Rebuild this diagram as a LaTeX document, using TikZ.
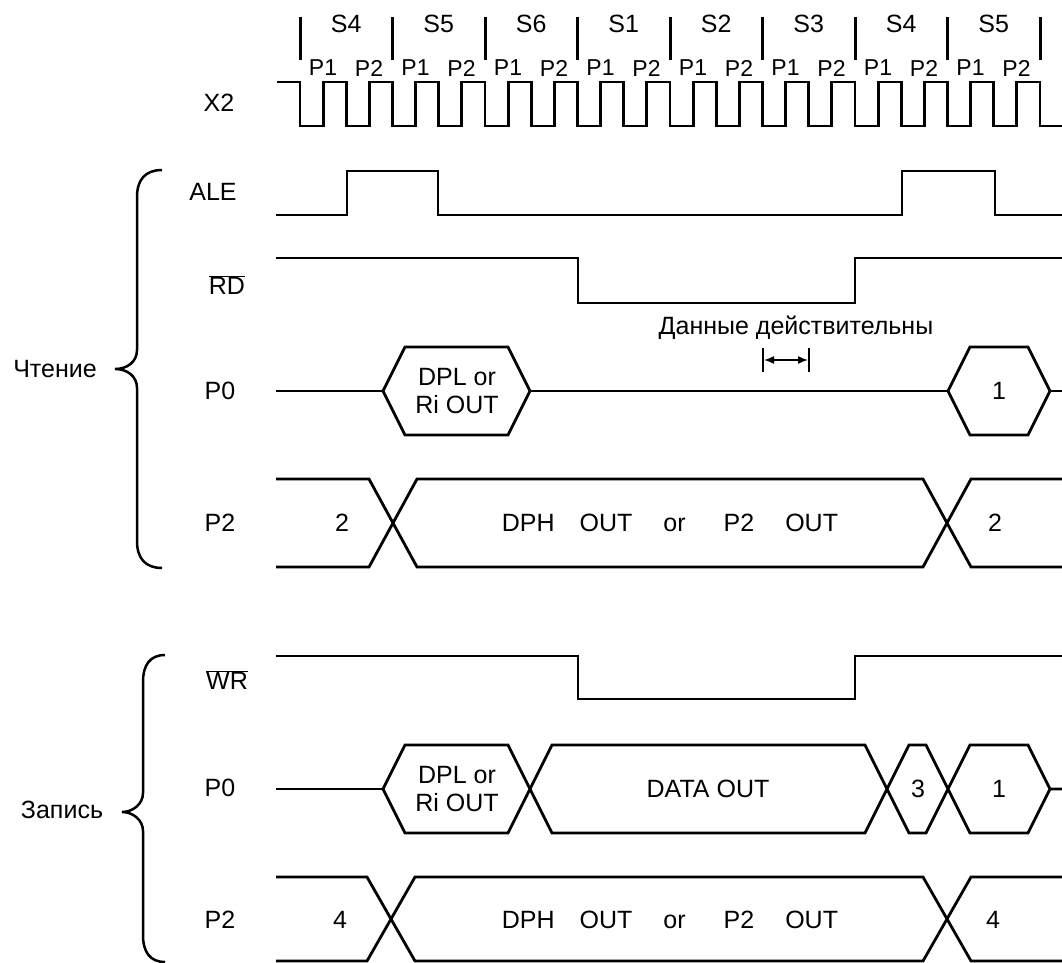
\documentclass[tikz,border=0pt]{standalone}
\usepackage{fontspec}
\setmainfont{Liberation Sans}
\usepackage{tikz}
\usetikzlibrary{arrows.meta}

\newcommand{\ovl}[1]{\ensuremath{\overline{\mbox{#1}}}}

\tikzset{
  sig/.style={line width=2.8pt},
  tick/.style={line width=3pt},
  brc/.style={line width=2.5pt},
  lbl/.style={font=\fontsize{25}{28}\selectfont, inner sep=0pt, align=center},
  plbl/.style={font=\fontsize{23}{26}\selectfont, inner sep=0pt},
}

\begin{document}
\begin{tikzpicture}[x=1pt,y=-1pt]
\useasboundingbox (0,0) rectangle (1062,963);

% states and phases
\foreach \k in {0,...,8}
  \draw[tick] ({300+92.5*\k},17) -- ({300+92.5*\k},60);
\foreach \s [count=\k from 0] in {S4,S5,S6,S1,S2,S3,S4,S5}
  \node[lbl] (s\k) at ({346.25+92.5*\k},24) {\s};
\foreach \k in {0,...,7} {
  \node[plbl] (pa\k) at ({323+92.5*\k},68) {P1};
  \node[plbl] (pb\k) at ({369+92.5*\k},68) {P2};
}

% clock
\node[lbl] (x2) at (219,103) {X2};
\draw[sig] (277,82) -- (300,82)
  \foreach \i in {0,...,15} { -- ++(0,44) -- ++(23.125,0) -- ++(0,-44) -- ++(23.125,0) }
  -- ++(0,44) -- (1062,126);

% read cycle
\node[lbl] (ale) at (213,192) {ALE};
\draw[sig] (276,215) -- (347,215) -- (347,171) -- (438,171) -- (438,215)
  -- (902,215) -- (902,171) -- (995,171) -- (995,215) -- (1062,215);

\node[lbl] (rd) at (227,285) {\ovl{RD}};
\draw[sig] (276,258) -- (578,258) -- (578,303) -- (855,303) -- (855,258) -- (1062,258);

\node[lbl] (p0r) at (220,391) {P0};
\draw[sig] (276,391) -- (383,391);
\draw[sig] (383,391) -- (405,347) -- (508,347) -- (530,391) -- (508,435) -- (405,435) -- cycle;
\draw[sig] (530,391) -- (948,391);
\draw[sig] (948,391) -- (970,347) -- (1028,347) -- (1050,391) -- (1028,435) -- (970,435) -- cycle;
\draw[sig] (1050,391) -- (1062,391);
\node[lbl] (dplr) at (457,391) {DPL or\\Ri OUT};
\node[lbl] (oner) at (999,391) {1};

\node[lbl] (valid) at (796,328) {Данные действительны};
\draw[line width=2pt] (763,348) -- (763,372);
\draw[line width=2pt] (809,348) -- (809,372);
\draw[line width=1.5pt, {Latex[length=10pt,width=8pt]}-{Latex[length=10pt,width=8pt]}] (764,360) -- (808,360);

\node[lbl] (p2r) at (220,523) {P2};
\draw[sig] (276,479) -- (369,479) -- (417,567) -- (923,567) -- (971,479) -- (1062,479);
\draw[sig] (276,567) -- (369,567) -- (417,479) -- (923,479) -- (971,567) -- (1062,567);
\node[lbl] (twor) at (342,523) {2};
\node[lbl] (dphr) at (670,523) {DPH\hspace{25pt}OUT\hspace{31pt}or\hspace{38pt}P2\hspace{31pt}OUT};
\node[lbl] (twor2) at (995,523) {2};

\node[lbl] (rdcyc) at (55,369) {Чтение};
\draw[brc] (162,170) .. controls (145,170) and (137,180) .. (137,197) -- (137,350)
  .. controls (137,362) and (127,369) .. (115,369)
  .. controls (127,369) and (137,376) .. (137,388) -- (137,541)
  .. controls (137,558) and (145,568) .. (162,568);

% write cycle
\node[lbl] (wr) at (227,680) {\ovl{WR}};
\draw[sig] (276,656) -- (578,656) -- (578,699) -- (855,699) -- (855,656) -- (1062,656);

\node[lbl] (p0w) at (220,788) {P0};
\draw[sig] (276,789) -- (383,789);
\draw[sig] (383,789) -- (405,745) -- (508,745) -- (552,833) -- (865,833) -- (909,745)
  -- (926,745) -- (970,833) -- (1028,833) -- (1050,789) -- (1062,789);
\draw[sig] (383,789) -- (405,833) -- (508,833) -- (552,745) -- (865,745) -- (909,833)
  -- (926,833) -- (970,745) -- (1028,745) -- (1050,789);
\node[lbl] (dplw) at (457,789) {DPL or\\Ri OUT};
\node[lbl] (data) at (708,789) {DATA OUT};
\node[lbl] (three) at (918,789) {3};
\node[lbl] (onew) at (999,789) {1};

\node[lbl] (p2w) at (220,920) {P2};
\draw[sig] (276,877) -- (367,877) -- (415,961) -- (923,961) -- (971,877) -- (1062,877);
\draw[sig] (276,961) -- (367,961) -- (415,877) -- (923,877) -- (971,961) -- (1062,961);
\node[lbl] (fourw) at (340,920) {4};
\node[lbl] (dphw) at (670,920) {DPH\hspace{25pt}OUT\hspace{31pt}or\hspace{38pt}P2\hspace{31pt}OUT};
\node[lbl] (fourw2) at (993,920) {4};

\node[lbl] (wrcyc) at (62,810) {Запись};
\draw[brc] (165,655) .. controls (150,655) and (143,665) .. (143,682) -- (143,793)
  .. controls (143,804) and (133,812) .. (122,812)
  .. controls (133,812) and (143,820) .. (143,831) -- (143,935)
  .. controls (143,952) and (150,962) .. (165,962);

\end{tikzpicture}
\end{document}
